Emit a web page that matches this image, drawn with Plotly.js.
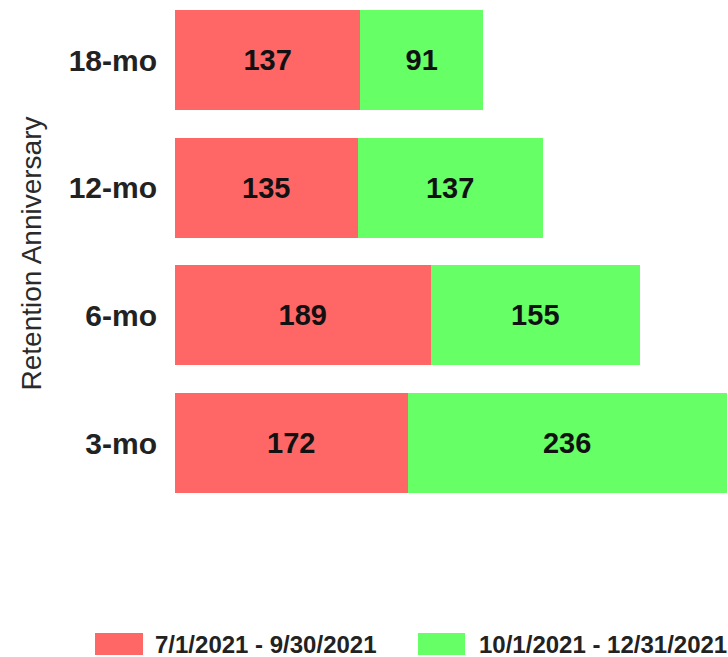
<!DOCTYPE html>
<html>
<head>
<meta charset="utf-8">
<script src="https://cdn.plot.ly/plotly-3.0.1.min.js"></script>
<style>html,body{margin:0;padding:0;background:#fff;}#chart{width:728px;height:657px;}</style>
</head>
<body>
<div id="chart"></div>
<script>
// Data
const categories = ["3-mo", "6-mo", "12-mo", "18-mo"];
const seriesNames = ["7/1/2021 - 9/30/2021", "10/1/2021 - 12/31/2021"];
const q3Values = [172, 189, 135, 137];
const q4Values = [236, 155, 137, 91];
const seriesColors = ["#FF6666", "#66FF66"];
const yAxisTitle = "Retention Anniversary";

const W = 728, H = 657;
const M = {l: 175, r: 0, t: 0, b: 150};
const PW = W - M.l - M.r, PH = H - M.t - M.b;
const px2x = p => (p - M.l) / PW;
const px2y = p => (M.t + PH - p) / PH;

const FONT = "Liberation Sans, Arial, sans-serif";

function barTrace(vals, i) {
  return {
    type: "bar", orientation: "h",
    y: categories, x: vals, name: seriesNames[i],
    marker: {color: seriesColors[i], line: {width: 0}},
    text: vals.map(String), textposition: "inside", insidetextanchor: "middle",
    constraintext: "none",
    textfont: {family: FONT, size: 29, color: "#111", weight: "bold"},
    hoverinfo: "none", showlegend: false
  };
}

const data = [barTrace(q3Values, 0), barTrace(q4Values, 1)];

// custom legend (swatches + labels)
const legendSpecs = [
  {sx0: 95, sx1: 143, tx: 153},
  {sx0: 418, sx1: 465, tx: 477}
];
const shapes = [], annotations = [];
legendSpecs.forEach((s, i) => {
  shapes.push({type: "rect", xref: "paper", yref: "paper",
    x0: px2x(s.sx0), x1: px2x(s.sx1), y0: px2y(655), y1: px2y(633),
    fillcolor: seriesColors[i], line: {width: 0}});
  annotations.push({xref: "paper", yref: "paper", x: px2x(s.tx), y: px2y(644),
    xanchor: "left", yanchor: "middle", showarrow: false, text: seriesNames[i],
    font: {family: FONT, size: 24, color: "#222", weight: "bold"}});
});

const layout = {
  width: W, height: H,
  margin: M,
  paper_bgcolor: "#fff", plot_bgcolor: "#fff",
  barmode: "stack", bargap: 0.217,
  showlegend: false,
  xaxis: {range: [0, PW / 1.352], visible: false, fixedrange: true},
  yaxis: {
    categoryorder: "array", categoryarray: categories,
    range: [-0.5, 3.47],
    showgrid: false, zeroline: false, showline: false, ticks: "",
    ticklabelstandoff: 17,
    tickfont: {family: FONT, size: 30, color: "#222", weight: "bold"},
    title: {text: yAxisTitle, standoff: 18, font: {family: FONT, size: 28, color: "#2a2a2a"}},
    fixedrange: true
  },
  shapes: shapes,
  annotations: annotations
};

Plotly.newPlot("chart", data, layout, {displayModeBar: false, staticPlot: true});
</script>
</body>
</html>
